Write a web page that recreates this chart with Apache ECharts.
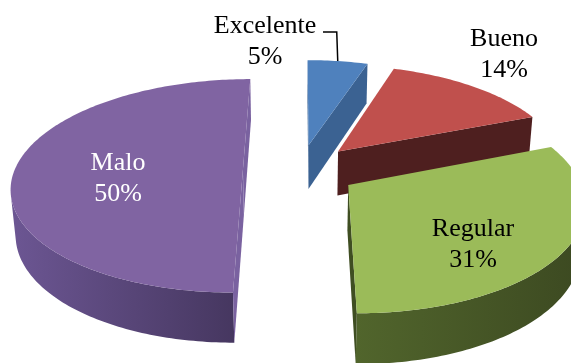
<!DOCTYPE html>
<html>
<head>
<meta charset="utf-8">
<script src="https://cdn.jsdelivr.net/npm/echarts@6/dist/echarts.min.js"></script>
<style>
  html, body { margin: 0; padding: 0; background: #fff; }
  #chart { width: 571px; height: 363px; }
</style>
</head>
<body>
<div id="chart"></div>
<script>
// Ratings, in clockwise order starting from the far side of the pie
const categories = ['Excelente', 'Bueno', 'Regular', 'Malo'];
const shares = [5, 14, 31, 50];

const topColors  = ['#4F81BD', '#C0504D', '#9BBB59', '#8064A2'];
const cutColors  = ['#3B6292', '#4E1F1F', '#3F4E22', '#7A62A0'];
const sideColors = [['#3F6696', '#2F4D73'], ['#7A2F2D', '#4E1F1F'],
                    ['#51652C', '#3C4921'], ['#6C5693', '#463760']];
const labelColors = ['#000', '#000', '#000', '#fff'];
const labelSpots = [[265, 42], [504, 55], [473, 245], [118, 179]];

// Perspective view of the tilted pie
const view = { cx: 300, cy: 170, F: 1370, D: 6, tilt: 27.2 * Math.PI / 180 };
const thickness = 0.225;
const explode = 0.25;
const sinT = Math.sin(view.tilt), cosT = Math.cos(view.tilt);
const camera = [0, view.D * sinT, -view.D * cosT];

function project(X, Y, Z) {
  const d = view.D + (-Y * sinT + Z * cosT);
  return [view.cx + view.F * X / d, view.cy - view.F * (Y * cosT + Z * sinT) / d];
}
function facing(P, n) {
  return (camera[0] - P[0]) * n[0] + (camera[1] - P[1]) * n[1] + (camera[2] - P[2]) * n[2] > 0;
}

const total = shares.reduce((a, b) => a + b, 0);
const startAngles = [];
shares.reduce((acc, v, i) => { startAngles[i] = acc; return acc + v; }, 0);

function renderSlice(params, api) {
  const i = params.dataIndex;
  const v = api.value(0);
  const a0 = startAngles[i] / total * 2 * Math.PI;
  const a1 = (startAngles[i] + v) / total * 2 * Math.PI;
  const mid = (a0 + a1) / 2;
  const ox = explode * Math.sin(mid), oz = explode * Math.cos(mid);
  const yB = -thickness;
  const steps = Math.max(8, Math.ceil((a1 - a0) / (Math.PI / 180)));
  const angles = [];
  for (let k = 0; k <= steps; k++) angles.push(a0 + (a1 - a0) * k / steps);
  const rim = (t, y) => project(ox + Math.sin(t), y, oz + Math.cos(t));
  const apexTop = project(ox, 0, oz), apexBot = project(ox, yB, oz);
  const children = [];
  const base = i * 10;

  // outer curved wall: keep only the stretch that faces the viewer
  let run = [];
  const flush = () => {
    if (run.length > 1) {
      const pts = run.map(t => rim(t, 0)).concat(run.slice().reverse().map(t => rim(t, yB)));
      children.push({
        type: 'polygon', z2: base + 1, shape: { points: pts },
        style: { fill: new echarts.graphic.LinearGradient(0, 0, 1, 0, [
          { offset: 0, color: sideColors[i][0] }, { offset: 1, color: sideColors[i][1] }]) }
      });
    }
    run = [];
  };
  angles.forEach(t => {
    const n = [Math.sin(t), 0, Math.cos(t)];
    const P = [ox + n[0], yB / 2, oz + n[2]];
    if (facing(P, n)) run.push(t); else flush();
  });
  flush();

  // the two flat cut faces
  [[a0, [-Math.cos(a0), 0, Math.sin(a0)]], [a1, [Math.cos(a1), 0, -Math.sin(a1)]]].forEach(([t, n]) => {
    const P = [ox + Math.sin(t) / 2, yB / 2, oz + Math.cos(t) / 2];
    if (facing(P, n)) {
      children.push({
        type: 'polygon', z2: base + 2,
        shape: { points: [apexTop, rim(t, 0), rim(t, yB), apexBot] },
        style: { fill: cutColors[i] }
      });
    }
  });

  // top face
  children.push({
    type: 'polygon', z2: base + 3,
    shape: { points: [apexTop].concat(angles.map(t => rim(t, 0))) },
    style: { fill: topColors[i] }
  });

  // label
  const pct = Math.round(v / total * 100) + '%';
  children.push({
    type: 'text', z2: 100,
    style: {
      text: categories[i] + '\n' + pct,
      x: labelSpots[i][0], y: labelSpots[i][1],
      fill: labelColors[i], fontFamily: 'Liberation Serif', fontSize: 26,
      lineHeight: 31, align: 'center', verticalAlign: 'middle'
    }
  });

  // leader line for the small outside label
  if (i === 0) {
    const end = rim(mid, 0);
    children.push({
      type: 'polyline', z2: 99,
      shape: { points: [[labelSpots[i][0] + 58, labelSpots[i][1] - 10], [end[0] - 1, labelSpots[i][1] - 10], end] },
      style: { stroke: '#000', lineWidth: 1.5, fill: null }
    });
  }
  return { type: 'group', children };
}

const chart = echarts.init(document.getElementById('chart'), null, { renderer: 'canvas' });
chart.setOption({
  animation: false,
  backgroundColor: '#fff',
  series: [{
    type: 'custom',
    coordinateSystem: 'none',
    renderItem: renderSlice,
    data: shares.map((v, i) => ({ name: categories[i], value: [v] }))
  }]
});
</script>
</body>
</html>
